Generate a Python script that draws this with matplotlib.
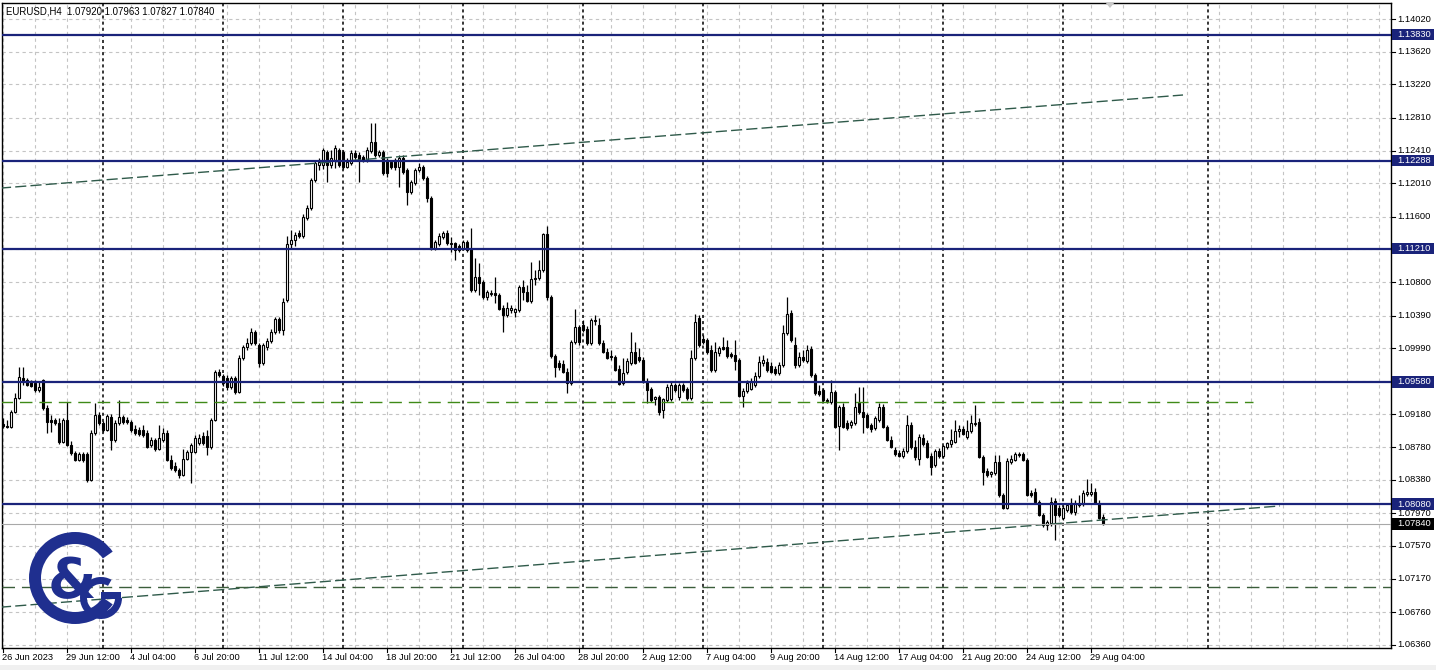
import matplotlib
matplotlib.use("Agg")
import matplotlib.pyplot as plt
from matplotlib.patches import Rectangle, Wedge, Polygon

symbol = "EURUSD,H4"

# H4 bars from 26 Jun 2023 20:00 to 29 Aug 2023
opens = [
    1.0906, 1.0904, 1.0903, 1.0921, 1.0938, 1.0963, 1.0960, 1.0959, 1.0957, 1.0948,
    1.0960, 1.0926, 1.0911, 1.0911, 1.0908, 1.0884, 1.0911, 1.0881, 1.0871, 1.0862,
    1.0870, 1.0870, 1.0838, 1.0895, 1.0917, 1.0908, 1.0899, 1.0915, 1.0887, 1.0908,
    1.0915, 1.0911, 1.0909, 1.0900, 1.0899, 1.0899, 1.0895, 1.0881, 1.0887, 1.0876,
    1.0887, 1.0895, 1.0862, 1.0855, 1.0850, 1.0844, 1.0863, 1.0872, 1.0872, 1.0883,
    1.0892, 1.0892, 1.0878, 1.0911, 1.0970, 1.0965, 1.0963, 1.0952, 1.0963, 1.0945,
    1.0987, 1.1001, 1.1005, 1.1019, 1.1003, 1.0981, 1.1001, 1.1008, 1.1019, 1.1035,
    1.1021, 1.1058, 1.1127, 1.1132, 1.1140, 1.1136, 1.1158, 1.1171, 1.1205, 1.1223,
    1.1223, 1.1239, 1.1223, 1.1230, 1.1242, 1.1239, 1.1221, 1.1226, 1.1238, 1.1236,
    1.1233, 1.1230, 1.1240, 1.1251, 1.1236, 1.1239, 1.1230, 1.1227, 1.1230, 1.1221,
    1.1232, 1.1217, 1.1190, 1.1201, 1.1217, 1.1221, 1.1207, 1.1183, 1.1122, 1.1127,
    1.1135, 1.1140, 1.1127, 1.1128, 1.1124, 1.1121, 1.1129, 1.1121, 1.1070, 1.1086,
    1.1080, 1.1062, 1.1065, 1.1067, 1.1064, 1.1048, 1.1040, 1.1046, 1.1043, 1.1046,
    1.1074, 1.1068, 1.1057, 1.1085, 1.1085, 1.1095, 1.1139, 1.1062, 1.0990, 1.0981,
    1.0980, 1.0970, 1.0957, 1.1007, 1.1025, 1.1028, 1.1023, 1.1005, 1.1034, 1.1028,
    1.1005, 1.0994, 1.0990, 1.0988, 1.0974, 1.0957, 1.0970, 1.0981, 1.0994, 1.0988,
    1.0985, 1.0958, 1.0949, 1.0937, 1.0939, 1.0923, 1.0936, 1.0937, 1.0954, 1.0939,
    1.0954, 1.0949, 1.0938, 1.0987, 1.1036, 1.1010, 1.1009, 1.0997, 1.0972, 1.0993,
    1.1001, 1.1001, 1.0992, 1.0991, 1.0985, 1.0941, 1.0947, 1.0949, 1.0954, 1.0965,
    1.0981, 1.0982, 1.0977, 1.0974, 1.0969, 1.0979, 1.1018, 1.1042, 1.1003, 1.0979,
    1.0988, 1.0983, 1.0998, 1.0966, 1.0947, 1.0948, 1.0936, 1.0933, 1.0945, 1.0904,
    1.0927, 1.0908, 1.0905, 1.0908, 1.0932, 1.0921, 1.0917, 1.0905, 1.0901, 1.0911,
    1.0927, 1.0903, 1.0887, 1.0875, 1.0871, 1.0867, 1.0873, 1.0905, 1.0878, 1.0863,
    1.0889, 1.0883, 1.0867, 1.0856, 1.0873, 1.0867, 1.0878, 1.0882, 1.0884, 1.0898,
    1.0900, 1.0890, 1.0898, 1.0906, 1.0909, 1.0866, 1.0849, 1.0845, 1.0846, 1.0860,
    1.0819, 1.0804, 1.0860, 1.0862, 1.0868, 1.0870, 1.0862, 1.0822, 1.0823, 1.0811,
    1.0795, 1.0783, 1.0785, 1.0812, 1.0804, 1.0791, 1.0801, 1.0810, 1.0799, 1.0807,
    1.0808, 1.0821, 1.0821, 1.0823, 1.0810, 1.07920,
]
highs = [
    1.0914, 1.0911, 1.0923, 1.0944, 1.0976, 1.0976, 1.0963, 1.0960, 1.0960, 1.0958,
    1.0961, 1.0930, 1.0917, 1.0914, 1.0914, 1.0914, 1.0933, 1.0886, 1.0873, 1.0872,
    1.0872, 1.0872, 1.0899, 1.0932, 1.0921, 1.0910, 1.0919, 1.0919, 1.0911, 1.0936,
    1.0917, 1.0915, 1.0911, 1.0905, 1.0903, 1.0905, 1.0899, 1.0890, 1.0889, 1.0905,
    1.0901, 1.0899, 1.0868, 1.0860, 1.0852, 1.0876, 1.0875, 1.0883, 1.0893, 1.0894,
    1.0897, 1.0899, 1.0914, 1.0972, 1.0974, 1.0968, 1.0966, 1.0965, 1.0965, 1.0991,
    1.1003, 1.1012, 1.1024, 1.1021, 1.1005, 1.1005, 1.1012, 1.1023, 1.1037, 1.1037,
    1.1061, 1.1136, 1.1144, 1.1141, 1.1144, 1.1163, 1.1174, 1.1207, 1.1230, 1.1232,
    1.1244, 1.1242, 1.1242, 1.1248, 1.1244, 1.1242, 1.1232, 1.1242, 1.1242, 1.1239,
    1.1236, 1.1245, 1.1275, 1.1275, 1.1242, 1.1242, 1.1232, 1.1230, 1.1232, 1.1236,
    1.1236, 1.1220, 1.1205, 1.1220, 1.1226, 1.1223, 1.1210, 1.1185, 1.1132, 1.1140,
    1.1143, 1.1144, 1.1135, 1.1129, 1.1127, 1.1132, 1.1132, 1.1146, 1.1110, 1.1103,
    1.1083, 1.1070, 1.1070, 1.1086, 1.1067, 1.1052, 1.1056, 1.1052, 1.1048, 1.1076,
    1.1083, 1.1076, 1.1105, 1.1095, 1.1107, 1.1140, 1.1149, 1.1064, 1.0992, 1.0985,
    1.0985, 1.0975, 1.1009, 1.1047, 1.1028, 1.1034, 1.1026, 1.1036, 1.1040, 1.1036,
    1.1009, 1.0999, 1.0997, 1.0991, 1.0979, 1.0987, 1.0987, 1.1019, 1.1007, 1.0999,
    1.0988, 1.0963, 1.0952, 1.0941, 1.0942, 1.0938, 1.0955, 1.0958, 1.0957, 1.0957,
    1.0957, 1.0952, 1.0997, 1.1041, 1.1040, 1.1015, 1.1012, 1.1003, 1.1007, 1.1002,
    1.1013, 1.1009, 1.0994, 1.1009, 1.0987, 1.0950, 1.0960, 1.0963, 1.0970, 1.0990,
    1.0991, 1.0987, 1.0982, 1.0977, 1.0982, 1.1028, 1.1062, 1.1046, 1.1013, 1.0994,
    1.0997, 1.1003, 1.1002, 1.0969, 1.0954, 1.0950, 1.0938, 1.0960, 1.0948, 1.0930,
    1.0932, 1.0911, 1.0911, 1.0944, 1.0952, 1.0952, 1.0920, 1.0908, 1.0916, 1.0932,
    1.0931, 1.0905, 1.0892, 1.0878, 1.0875, 1.0877, 1.0917, 1.0909, 1.0887, 1.0894,
    1.0894, 1.0887, 1.0871, 1.0876, 1.0877, 1.0881, 1.0884, 1.0900, 1.0911, 1.0905,
    1.0904, 1.0911, 1.0917, 1.0930, 1.0914, 1.0868, 1.0852, 1.0849, 1.0868, 1.0868,
    1.0822, 1.0865, 1.0868, 1.0872, 1.0872, 1.0872, 1.0865, 1.0826, 1.0828, 1.0813,
    1.0797, 1.0789, 1.0817, 1.0816, 1.0807, 1.0807, 1.0810, 1.0816, 1.0813, 1.0819,
    1.0826, 1.0839, 1.0834, 1.0828, 1.0813, 1.07963,
]
lows = [
    1.0901, 1.0901, 1.0901, 1.0920, 1.0937, 1.0954, 1.0953, 1.0952, 1.0945, 1.0945,
    1.0923, 1.0895, 1.0897, 1.0905, 1.0882, 1.0883, 1.0879, 1.0868, 1.0861, 1.0861,
    1.0860, 1.0835, 1.0837, 1.0893, 1.0905, 1.0897, 1.0898, 1.0875, 1.0884, 1.0905,
    1.0906, 1.0906, 1.0897, 1.0893, 1.0892, 1.0890, 1.0877, 1.0878, 1.0873, 1.0875,
    1.0884, 1.0861, 1.0850, 1.0848, 1.0840, 1.0843, 1.0862, 1.0834, 1.0871, 1.0881,
    1.0881, 1.0868, 1.0876, 1.0910, 1.0964, 1.0953, 1.0948, 1.0949, 1.0943, 1.0944,
    1.0985, 1.0997, 1.1003, 1.1003, 1.0976, 1.0979, 1.0997, 1.1005, 1.1016, 1.1018,
    1.1015, 1.1056, 1.1122, 1.1124, 1.1134, 1.1134, 1.1156, 1.1168, 1.1203, 1.1217,
    1.1218, 1.1203, 1.1220, 1.1220, 1.1221, 1.1218, 1.1220, 1.1223, 1.1231, 1.1203,
    1.1227, 1.1227, 1.1238, 1.1233, 1.1233, 1.1211, 1.1209, 1.1218, 1.1217, 1.1196,
    1.1212, 1.1174, 1.1188, 1.1199, 1.1215, 1.1205, 1.1178, 1.1119, 1.1119, 1.1124,
    1.1133, 1.1125, 1.1117, 1.1107, 1.1117, 1.1119, 1.1117, 1.1068, 1.1068, 1.1064,
    1.1059, 1.1058, 1.1063, 1.1054, 1.1046, 1.1019, 1.1037, 1.1042, 1.1037, 1.1043,
    1.1058, 1.1056, 1.1054, 1.1076, 1.1083, 1.1092, 1.1058, 1.0987, 1.0964, 1.0972,
    1.0969, 1.0944, 1.0954, 1.1004, 1.1003, 1.1019, 1.1003, 1.1003, 1.1028, 1.1003,
    1.0993, 1.0986, 1.0985, 1.0971, 1.0954, 1.0954, 1.0968, 1.0979, 1.0980, 1.0982,
    1.0957, 1.0932, 1.0933, 1.0930, 1.0917, 1.0914, 1.0933, 1.0934, 1.0945, 1.0936,
    1.0945, 1.0936, 1.0936, 1.0985, 1.1001, 1.1004, 1.0992, 1.0970, 1.0970, 1.0990,
    1.0997, 1.0987, 1.0987, 1.0972, 1.0939, 1.0927, 1.0944, 1.0948, 1.0952, 1.0963,
    1.0977, 1.0970, 1.0969, 1.0966, 1.0966, 1.0976, 1.1015, 1.1007, 1.0975, 1.0976,
    1.0982, 1.0981, 1.0964, 1.0942, 1.0941, 1.0933, 1.0932, 1.0931, 1.0901, 1.0875,
    1.0901, 1.0899, 1.0901, 1.0905, 1.0919, 1.0895, 1.0901, 1.0897, 1.0899, 1.0909,
    1.0901, 1.0886, 1.0877, 1.0867, 1.0866, 1.0865, 1.0871, 1.0876, 1.0862, 1.0856,
    1.0879, 1.0865, 1.0844, 1.0854, 1.0865, 1.0865, 1.0876, 1.0878, 1.0883, 1.0890,
    1.0893, 1.0888, 1.0895, 1.0904, 1.0865, 1.0832, 1.0841, 1.0841, 1.0844, 1.0817,
    1.0802, 1.0802, 1.0857, 1.0861, 1.0866, 1.0861, 1.0818, 1.0817, 1.0810, 1.0794,
    1.0780, 1.0777, 1.0781, 1.0764, 1.0793, 1.0789, 1.0799, 1.0796, 1.0795, 1.0805,
    1.0806, 1.0818, 1.0818, 1.0808, 1.0790, 1.07827,
]
closes = [
    1.0904, 1.0903, 1.0921, 1.0938, 1.0964, 1.0959, 1.0954, 1.0953, 1.0948, 1.0952,
    1.0926, 1.0909, 1.0909, 1.0908, 1.0884, 1.0911, 1.0881, 1.0871, 1.0862, 1.0870,
    1.0862, 1.0838, 1.0895, 1.0917, 1.0908, 1.0899, 1.0916, 1.0887, 1.0908, 1.0915,
    1.0909, 1.0909, 1.0899, 1.0895, 1.0894, 1.0893, 1.0878, 1.0887, 1.0876, 1.0889,
    1.0895, 1.0862, 1.0852, 1.0850, 1.0844, 1.0863, 1.0872, 1.0881, 1.0889, 1.0889,
    1.0883, 1.0878, 1.0911, 1.0970, 1.0966, 1.0957, 1.0952, 1.0963, 1.0945, 1.0987,
    1.1001, 1.1005, 1.1019, 1.1005, 1.0981, 1.1003, 1.1008, 1.1019, 1.1035, 1.1021,
    1.1056, 1.1127, 1.1132, 1.1138, 1.1136, 1.1160, 1.1171, 1.1205, 1.1226, 1.1227,
    1.1242, 1.1223, 1.1232, 1.1244, 1.1223, 1.1221, 1.1227, 1.1238, 1.1233, 1.1230,
    1.1230, 1.1242, 1.1251, 1.1236, 1.1239, 1.1214, 1.1214, 1.1221, 1.1221, 1.1232,
    1.1215, 1.1190, 1.1203, 1.1217, 1.1221, 1.1207, 1.1183, 1.1122, 1.1129, 1.1136,
    1.1140, 1.1128, 1.1128, 1.1119, 1.1119, 1.1129, 1.1119, 1.1070, 1.1086, 1.1079,
    1.1062, 1.1068, 1.1067, 1.1064, 1.1047, 1.1040, 1.1048, 1.1048, 1.1047, 1.1074,
    1.1068, 1.1057, 1.1084, 1.1084, 1.1095, 1.1139, 1.1062, 1.0990, 1.0976, 1.0976,
    1.0970, 1.0957, 1.1007, 1.1025, 1.1007, 1.1021, 1.1005, 1.1034, 1.1032, 1.1005,
    1.0994, 1.0987, 1.0988, 1.0972, 1.0955, 1.0969, 1.0983, 1.0994, 1.0981, 1.0985,
    1.0958, 1.0948, 1.0936, 1.0939, 1.0921, 1.0937, 1.0952, 1.0954, 1.0948, 1.0954,
    1.0948, 1.0938, 1.0987, 1.1031, 1.1003, 1.1007, 1.0994, 1.0972, 1.0994, 1.0999,
    1.0998, 1.0990, 1.0990, 1.0983, 1.0941, 1.0947, 1.0957, 1.0958, 1.0965, 1.0982,
    1.0985, 1.0972, 1.0970, 1.0969, 1.0979, 1.1018, 1.1041, 1.1009, 1.0979, 1.0988,
    1.0985, 1.0997, 1.0966, 1.0944, 1.0943, 1.0936, 1.0934, 1.0945, 1.0903, 1.0927,
    1.0903, 1.0901, 1.0909, 1.0927, 1.0921, 1.0915, 1.0903, 1.0900, 1.0914, 1.0927,
    1.0903, 1.0887, 1.0878, 1.0870, 1.0867, 1.0873, 1.0905, 1.0878, 1.0866, 1.0890,
    1.0882, 1.0866, 1.0854, 1.0873, 1.0867, 1.0879, 1.0883, 1.0887, 1.0898, 1.0900,
    1.0894, 1.0898, 1.0908, 1.0908, 1.0866, 1.0848, 1.0844, 1.0848, 1.0860, 1.0819,
    1.0804, 1.0861, 1.0863, 1.0870, 1.0870, 1.0862, 1.0819, 1.0819, 1.0811, 1.0795,
    1.0783, 1.0786, 1.0811, 1.0795, 1.0795, 1.0804, 1.0807, 1.0799, 1.0810, 1.0810,
    1.0822, 1.0823, 1.0823, 1.0810, 1.0791, 1.07840,
]

time_labels = ["26 Jun 2023", "29 Jun 12:00", "4 Jul 04:00", "6 Jul 20:00",
               "11 Jul 12:00", "14 Jul 04:00", "18 Jul 20:00", "21 Jul 12:00",
               "26 Jul 04:00", "28 Jul 20:00", "2 Aug 12:00", "7 Aug 04:00",
               "9 Aug 20:00", "14 Aug 12:00", "17 Aug 04:00", "21 Aug 20:00",
               "24 Aug 12:00", "29 Aug 04:00"]
label_every = 16                      # bars between time labels
week_starts = [25, 55, 85, 115, 145, 175, 205, 235, 265, 301.25]   # Monday 00:00 bars

price_ticks = [1.14020, 1.13620, 1.13220, 1.12810, 1.12410, 1.12010, 1.11600,
               1.11200, 1.10800, 1.10390, 1.09990, 1.09590, 1.09180, 1.08780,
               1.08380, 1.07970, 1.07570, 1.07170, 1.06760, 1.06360]
levels = [1.13830, 1.12288, 1.11210, 1.09580, 1.08080]
last_price = 1.07840
green_level = 1.0933
low_level = 1.0707
trend_up_x, trend_up_y = [-0.75, 295.0], [1.1195, 1.1309]
trend_lo_x, trend_lo_y = [-0.75, 319.25], [1.0682, 1.0806]

NAVY = "#1a237a"
W, H = 1436, 670
FONT = "Liberation Sans"
FS = 6.7

fig = plt.figure(figsize=(W / 100, H / 100), dpi=100)
fig.patch.set_facecolor("white")
ax = fig.add_axes([2 / W, 22 / H, 1389 / W, 645 / H])
ax.set_xlim(-0.25, 347.0)
ax.set_ylim(1.06321, 1.14216)
ax.set_xticks([])
ax.set_yticks([])
for s in ax.spines.values():
    s.set_color("black")
    s.set_linewidth(1.0)

# grid
for k in range(0, 347, 8):
    ax.axvline(k, color="#c4c4c4", lw=0.8, ls=(0, (3, 3)), zorder=0)
for p in price_ticks:
    ax.axhline(p, color="#c4c4c4", lw=0.8, ls=(0, (3, 3)), zorder=0)

# weekly separators
for w in week_starts:
    ax.axvline(w, color="black", lw=1.1, ls=(0, (2, 2)), zorder=1)

# candles
n = len(closes)
for i in range(n):
    o, h, l, c = opens[i], highs[i], lows[i], closes[i]
    ax.plot([i, i], [l, h], color="black", lw=0.9, zorder=3, solid_capstyle="butt")
    bottom = min(o, c)
    height = max(abs(c - o), 0.00005)
    face = "white" if c >= o else "black"
    ax.bar(i, height, bottom=bottom, width=0.72, facecolor=face,
           edgecolor="black", linewidth=0.8, zorder=4)

# drawn objects
ax.plot(trend_up_x, trend_up_y, color="#2f5a4a", lw=1.0, ls=(0, (8, 3)), zorder=5)
ax.plot(trend_lo_x, trend_lo_y, color="#2f5a4a", lw=1.0, ls=(0, (8, 3)), zorder=5)
ax.plot([-0.75, 312.5], [green_level, green_level], color="#3f8a18", lw=1.0,
        ls=(0, (9, 5)), zorder=5)
ax.axhline(low_level, color="#3b5e3b", lw=1.0, ls=(0, (9, 5)), zorder=5)
for lv in levels:
    ax.axhline(lv, color=NAVY, lw=1.6, zorder=6)
ax.axhline(last_price, color="#a8a8a8", lw=0.8, zorder=5)

# right price scale
yt = ax.get_yaxis_transform()
tick_len = 4 / 1389
for p in price_ticks:
    ax.plot([1, 1 + tick_len], [p, p], color="black", lw=0.8, transform=yt, clip_on=False)
    ax.text(1 + 6 / 1389, p, f"{p:.5f}", transform=yt, fontsize=FS, family=FONT,
            va="center", ha="left", color="black")
half = 5.8 * (1.14216 - 1.06321) / 645
for lv, bg in [(v, NAVY) for v in levels] + [(last_price, "black")]:
    ax.add_patch(Rectangle((1 + 1 / 1389, lv - half), 42 / 1389, 2 * half,
                           transform=yt, clip_on=False, facecolor=bg,
                           edgecolor="none", zorder=7))
    ax.text(1 + 6 / 1389, lv, f"{lv:.5f}", transform=yt, fontsize=FS, family=FONT,
            va="center", ha="left", color="white", zorder=8)

# time scale
xt = ax.get_xaxis_transform()
for j, lab in enumerate(time_labels):
    bx = j * label_every
    ax.plot([bx, bx], [0, -4 / 645], color="black", lw=0.8, transform=xt, clip_on=False)
    ax.text(bx - 0.2, -9.5 / 645, lab, transform=xt, fontsize=FS, family=FONT,
            va="center", ha="left", color="black")

# header
fig.text(6 / W, 1 - 12 / H, f"{symbol}  1.07920 1.07963 1.07827 1.07840",
         fontsize=6.9, family=FONT, va="center", ha="left")

# chart shift marker and bottom strip
fig.patches.append(Polygon([[1105 / W, 1 - 2 / H], [1115 / W, 1 - 2 / H],
                            [1110 / W, 1 - 8 / H]], closed=True,
                           transform=fig.transFigure, facecolor="#c8c8c8",
                           edgecolor="none"))
fig.patches.append(Rectangle((0, 0), 1, 5 / H, transform=fig.transFigure,
                             facecolor="#f0f0f0", edgecolor="none"))

# logo (pixel overlay)
lg = fig.add_axes([0, 0, 1, 1])
lg.set_xlim(0, W)
lg.set_ylim(H, 0)
lg.axis("off")
lg.patch.set_alpha(0)
LOGO = "#1f2f8f"
lg.add_patch(Wedge((75, 578), 46, 35, 325, width=12, facecolor=LOGO, edgecolor="none"))
lg.text(72, 582, "&", fontsize=40, fontweight="bold", color=LOGO,
        ha="center", va="center", family="DejaVu Sans")
lg.add_patch(Wedge((101, 598), 21, 0, 300, width=7, facecolor=LOGO, edgecolor="none"))
lg.add_patch(Rectangle((101, 592), 20, 7, facecolor=LOGO, edgecolor="none"))

fig.savefig("out.png", dpi=100)
